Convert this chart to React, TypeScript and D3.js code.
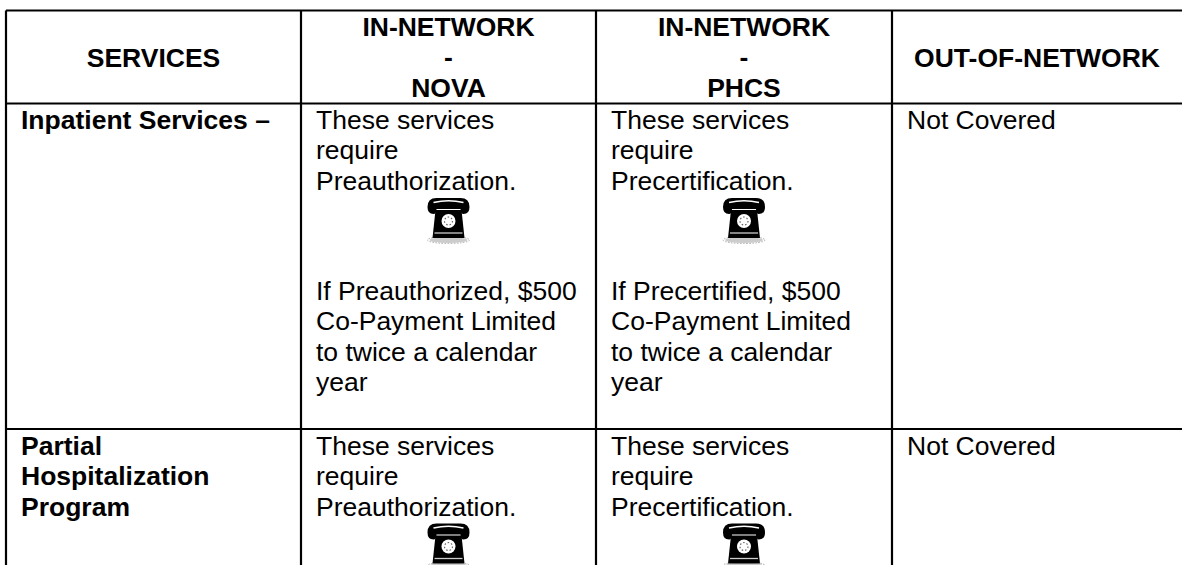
import { useEffect, useRef } from "react";
import * as d3 from "d3";

const width = 1182;
const height = 565;

const columnEdges = [6, 301, 596, 892, 1182];
const rowEdges = [10.5, 103.5, 429, 565];
const rowTextStart = [128.5, 454.5];

const headers = [
  ["SERVICES"],
  ["IN-NETWORK", "-", "NOVA"],
  ["IN-NETWORK", "-", "PHCS"],
  ["OUT-OF-NETWORK"],
];

const rowTitles = [["Inpatient Services –"], ["Partial", "Hospitalization", "Program"]];
const novaFirst = ["These services", "require", "Preauthorization."];
const phcsFirst = ["These services", "require", "Precertification."];
const novaCost = ["If Preauthorized, $500", "Co-Payment Limited", "to twice a calendar", "year"];
const phcsCost = ["If Precertified, $500", "Co-Payment Limited", "to twice a calendar", "year"];
const outOfNetwork = "Not Covered";

const lineHeight = 30.6;
const cellPad = 15;

// y is the top of the handset
function Phone({ x, y }: { x: number; y: number }) {
  return (
    <g transform={`translate(${x},${y})`}>
      <ellipse cx={0} cy={42} rx={19} ry={3} fill="#ccc" />
      <ellipse cx={0} cy={42} rx={21} ry={3.5} fill="none" stroke="#aaa" strokeWidth={1} strokeDasharray="1.5 1.5" />
      <path d="M-13,12 L13,12 L16,40 L-16,40 Z" fill="#000" />
      <path d="M-21,9 Q-21,0 -12,0 L12,0 Q21,0 21,9 Q21,16 15,16 Q12,16 12,11 L-12,11 Q-12,16 -15,16 Q-21,16 -21,9 Z" fill="#000" />
      <path d="M-15,4.5 Q0,1 15,4.5" fill="none" stroke="#fff" strokeWidth={1.3} />
      <circle cx={0} cy={23} r={7} fill="#fff" />
      <circle cx={0} cy={23} r={4} fill="none" stroke="#666" strokeWidth={1.2} strokeDasharray="1.5 2" />
      <line x1={-14} x2={14} y1={35} y2={35} stroke="#ccc" strokeWidth={1.3} />
    </g>
  );
}

export default function App() {
  const gridRef = useRef<SVGGElement>(null);

  const x = d3.scaleOrdinal<number, number>().domain(d3.range(columnEdges.length)).range(columnEdges);
  const y = d3.scaleOrdinal<number, number>().domain(d3.range(rowEdges.length)).range(rowEdges);

  useEffect(() => {
    const g = d3.select(gridRef.current);
    g.selectAll("*").remove();
    g.selectAll("line.v")
      .data(columnEdges.slice(0, 4))
      .join("line")
      .attr("x1", (d) => d)
      .attr("x2", (d) => d)
      .attr("y1", rowEdges[0])
      .attr("y2", height)
      .attr("stroke", "#000")
      .attr("stroke-width", 2.2);
    g.selectAll("line.h")
      .data(rowEdges.slice(0, 3))
      .join("line")
      .attr("x1", columnEdges[0])
      .attr("x2", width)
      .attr("y1", (d) => d)
      .attr("y2", (d) => d)
      .attr("stroke", "#000")
      .attr("stroke-width", 2.2);
  }, []);

  const textLines = (lines: string[], tx: number, ty: number, bold = false) =>
    lines.map((l, i) => (
      <text key={l + i} x={tx} y={ty + i * lineHeight} fontWeight={bold ? "bold" : "normal"}>
        {l}
      </text>
    ));

  return (
    <svg
      width={width}
      height={height}
      viewBox={`0 0 ${width} ${height}`}
      style={{ position: "absolute", left: 0, top: 0, background: "#fff" }}
      fontFamily="'Liberation Sans', Arial, sans-serif"
      fontSize={26.5}
      fill="#000"
    >
      <g ref={gridRef} />
      <g textAnchor="middle" fontWeight="bold">
        {headers.map((lines, c) => {
          const cx = (x(c) + x(c + 1)) / 2;
          const start = lines.length === 1 ? 66.5 : 35.5;
          return lines.map((l, i) => (
            <text key={c + "-" + i} x={cx} y={start + i * lineHeight}>
              {l}
            </text>
          ));
        })}
      </g>
      {rowTitles.map((lines, r) => (
        <g key={r}>{textLines(lines, x(0) + cellPad, rowTextStart[r], true)}</g>
      ))}
      {[0, 1].map((r) => {
        const top = y(r + 1);
        return (
          <g key={r}>
            {textLines(novaFirst, x(1) + cellPad, rowTextStart[r])}
            {textLines(phcsFirst, x(2) + cellPad, rowTextStart[r])}
            <text x={x(3) + cellPad} y={rowTextStart[r]}>{outOfNetwork}</text>
            <Phone x={(x(1) + x(2)) / 2} y={top + 94.5} />
            <Phone x={(x(2) + x(3)) / 2} y={top + 94.5} />
          </g>
        );
      })}
      {textLines(novaCost, x(1) + cellPad, 299.5)}
      {textLines(phcsCost, x(2) + cellPad, 299.5)}
    </svg>
  );
}
